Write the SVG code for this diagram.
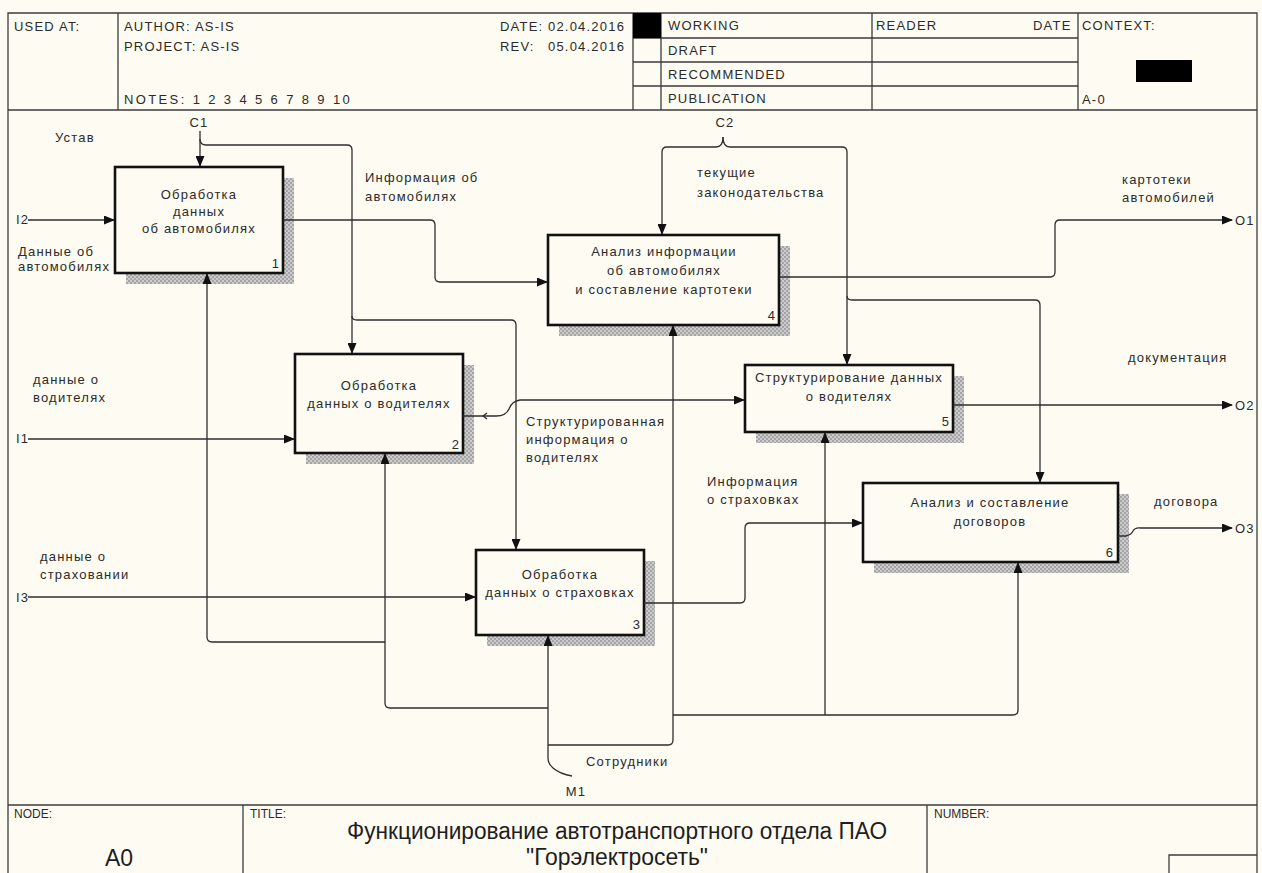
<svg xmlns="http://www.w3.org/2000/svg" width="1262" height="873" viewBox="0 0 1262 873">
  <style>
    .t{font-family:"Liberation Sans",Arial,sans-serif;font-size:13px;fill:#2b2b2b;letter-spacing:1.2px}
    .n{font-family:"Liberation Sans",Arial,sans-serif;font-size:13px;fill:#2b2b2b;text-anchor:end}
    .s{font-family:"Liberation Sans",Arial,sans-serif;font-size:12px;fill:#2b2b2b}
    .big{font-family:"Liberation Sans",Arial,sans-serif;font-size:23px;fill:#1e1e1e;text-anchor:middle}
    .c{text-anchor:middle}
    .fr{fill:none;stroke:#3c3c3c;stroke-width:1.3}
    .box{fill:#fdfbf2;stroke:#111;stroke-width:2.6}
    .sh{fill:url(#dither)}
    .ln{fill:none;stroke:#2e2e2e;stroke-width:1.3}
    .arr{marker-end:url(#ah)}
  </style>
  <defs>
    <pattern id="dither" width="4" height="4" patternUnits="userSpaceOnUse">
      <rect width="4" height="4" fill="#cccccc"/>
      <rect width="2" height="2" fill="#a4a4a4"/>
      <rect x="2" y="2" width="2" height="2" fill="#a4a4a4"/>
    </pattern>
    <marker id="ah" markerUnits="userSpaceOnUse" markerWidth="11" markerHeight="9" refX="10" refY="4.5" orient="auto">
      <path d="M0,0 L11,4.5 L0,9 z" fill="#111"/>
    </marker>
  </defs>

  <rect width="1262" height="873" fill="#fdfbf2"/>

  <!-- drawing frame: header and footer forms -->
  <g id="frame">
    <path class="fr" d="M8,880 V13 H1257 V880"/>
    <path class="fr" d="M8,110 H1257 M118,13 V110 M633,13 V110 M661,13 V110 M872,13 V110 M1078,13 V110"/>
    <path class="fr" d="M633,38 H1078 M633,62 H1078 M633,86 H1078"/>
    <rect x="633" y="13" width="28" height="25" fill="#000"/>
    <rect x="1136" y="60" width="56" height="22" fill="#000"/>
    <text class="t" x="14" y="31">USED AT:</text>
    <text class="t" x="124" y="31">AUTHOR: AS-IS</text>
    <text class="t" x="124" y="51">PROJECT: AS-IS</text>
    <text class="t" x="124" y="104" textLength="227">NOTES: 1 2 3 4 5 6 7 8 9 10</text>
    <text class="t" x="500" y="31">DATE:</text>
    <text class="t" x="548" y="31">02.04.2016</text>
    <text class="t" x="500" y="51">REV:</text>
    <text class="t" x="548" y="51">05.04.2016</text>
    <text class="t" x="668" y="30">WORKING</text>
    <text class="t" x="668" y="55">DRAFT</text>
    <text class="t" x="668" y="79">RECOMMENDED</text>
    <text class="t" x="668" y="103">PUBLICATION</text>
    <text class="t" x="876" y="30">READER</text>
    <text class="t" x="1033" y="30">DATE</text>
    <text class="t" x="1082" y="30">CONTEXT:</text>
    <text class="t" x="1082" y="104">A-0</text>

    <path class="fr" d="M8,805 H1257 M243,805 V880 M927,805 V880 M1169,880 V855 H1257"/>
    <text class="s" x="14" y="818">NODE:</text>
    <text class="s" x="250" y="818">TITLE:</text>
    <text class="s" x="934" y="818">NUMBER:</text>
    <text class="big" x="119" y="866">A0</text>
    <text class="big" x="617" y="839" textLength="540" lengthAdjust="spacingAndGlyphs">Функционирование автотранспортного отдела ПАО</text>
    <text class="big" x="617" y="865" textLength="182" lengthAdjust="spacingAndGlyphs">"Горэлектросеть"</text>
  </g>

  <!-- activity boxes -->
  <g id="node-1">
    <rect class="sh" x="126" y="178" width="168" height="106"/>
    <rect class="box" x="115" y="167" width="168" height="106"/>
    <text class="t c" x="199" y="199">Обработка</text>
    <text class="t c" x="199" y="216">данных</text>
    <text class="t c" x="199" y="233">об автомобилях</text>
    <text class="n" x="279" y="268">1</text>
  </g>
  <g id="node-2">
    <rect class="sh" x="306" y="365" width="168" height="99"/>
    <rect class="box" x="295" y="354" width="168" height="99"/>
    <text class="t c" x="379" y="390">Обработка</text>
    <text class="t c" x="379" y="408">данных о водителях</text>
    <text class="n" x="459" y="449">2</text>
  </g>
  <g id="node-3">
    <rect class="sh" x="487" y="561" width="168" height="85"/>
    <rect class="box" x="476" y="550" width="168" height="85"/>
    <text class="t c" x="560" y="579">Обработка</text>
    <text class="t c" x="560" y="597">данных о страховках</text>
    <text class="n" x="640" y="629">3</text>
  </g>
  <g id="node-4">
    <rect class="sh" x="559" y="246" width="231" height="90"/>
    <rect class="box" x="548" y="235" width="231" height="90"/>
    <text class="t c" x="664" y="256">Анализ информации</text>
    <text class="t c" x="664" y="275">об автомобилях</text>
    <text class="t c" x="664" y="294">и составление картотеки</text>
    <text class="n" x="775" y="320">4</text>
  </g>
  <g id="node-5">
    <rect class="sh" x="756" y="376" width="208" height="67"/>
    <rect class="box" x="745" y="365" width="208" height="67"/>
    <text class="t c" x="849" y="382">Структурирование данных</text>
    <text class="t c" x="849" y="401">о водителях</text>
    <text class="n" x="949" y="426">5</text>
  </g>
  <g id="node-6">
    <rect class="sh" x="874" y="494" width="255" height="79"/>
    <rect class="box" x="863" y="483" width="255" height="79"/>
    <text class="t c" x="990" y="507">Анализ и составление</text>
    <text class="t c" x="990" y="526">договоров</text>
    <text class="n" x="1113" y="557">6</text>
  </g>

  <!-- arrows -->
  <g id="connectors">
    <!-- inputs -->
    <path class="ln arr" d="M28,220 L114,220"/>
    <path class="ln arr" d="M28,439 L294,439"/>
    <path class="ln arr" d="M28,597 L475,597"/>
    <!-- C1 control -->
    <path class="ln arr" d="M200,131 L200,166"/>
    <path class="ln arr" d="M200,139 Q200,145 206,145 L347,145 Q352,145 352,150 L352,353"/>
    <path class="ln arr" d="M352,316 Q352,320 357,320 L511,320 Q516,320 516,325 L516,549"/>
    <!-- box 1 to box 4 -->
    <path class="ln arr" d="M283,220 L430,220 Q435,220 435,225 L435,277 Q435,282 440,282 L547,282"/>
    <!-- C2 control -->
    <path class="ln arr" d="M723,137 Q723,147 716,147 L667,147 Q662,147 662,152 L662,234"/>
    <path class="ln arr" d="M723,137 Q723,147 730,147 L842,147 Q847,147 847,152 L847,364"/>
    <path class="ln arr" d="M847,296 Q847,300 852,300 L1035,300 Q1040,300 1040,305 L1040,482"/>
    <!-- box 4 output -->
    <path class="ln arr" d="M779,277 L1050,277 Q1055,277 1055,272 L1055,225 Q1055,220 1060,220 L1232,220"/>
    <!-- box 2 to box 5 -->
    <path class="ln arr" d="M463,416 L496,416 Q506,416 509,409 Q512,401 520,400 L744,400"/>
    <path class="ln" d="M487,413 L483,416 L487,419"/>
    <!-- box 5 output -->
    <path class="ln arr" d="M953,405 L1232,405"/>
    <!-- box 3 to box 6 -->
    <path class="ln arr" d="M644,603 L740,603 Q745,603 745,598 L745,528 Q745,523 750,523 L862,523"/>
    <!-- box 6 output -->
    <path class="ln arr" d="M1118,536 L1126,536 Q1131,535 1133,531 Q1135,527 1141,528 L1232,528"/>
    <!-- M1 mechanism -->
    <path class="ln arr" d="M572,776 Q560,774 553,768 Q548,764 548,758 L548,636"/>
    <path class="ln arr" d="M548,708 L390,708 Q385,708 385,703 L385,454"/>
    <path class="ln arr" d="M385,642 L212,642 Q207,642 207,637 L207,274"/>
    <path class="ln arr" d="M548,745 L668,745 Q673,745 673,740 L673,326"/>
    <path class="ln arr" d="M673,715 L1013,715 Q1018,715 1018,710 L1018,563"/>
    <path class="ln arr" d="M825,715 L825,433"/>
  </g>

  <!-- arrow labels -->
  <g id="labels">
    <text class="t c" x="199" y="127">C1</text>
    <text class="t c" x="725" y="127">C2</text>
    <text class="t" x="55" y="142">Устав</text>
    <text class="t" x="16" y="224">I2</text>
    <text class="t" x="18" y="256">Данные об</text>
    <text class="t" x="18" y="271">автомобилях</text>
    <text class="t" x="365" y="182">Информация об</text>
    <text class="t" x="365" y="201">автомобилях</text>
    <text class="t" x="697" y="177">текущие</text>
    <text class="t" x="697" y="197">законодательства</text>
    <text class="t" x="1122" y="184">картотеки</text>
    <text class="t" x="1122" y="202">автомобилей</text>
    <text class="t" x="1235" y="225">O1</text>
    <text class="t" x="33" y="384">данные о</text>
    <text class="t" x="33" y="402">водителях</text>
    <text class="t" x="16" y="443">I1</text>
    <text class="t" x="1128" y="362">документация</text>
    <text class="t" x="1235" y="410">O2</text>
    <text class="t" x="526" y="426">Структурированная</text>
    <text class="t" x="526" y="444">информация о</text>
    <text class="t" x="526" y="462">водителях</text>
    <text class="t" x="707" y="486">Информация</text>
    <text class="t" x="707" y="504">о страховках</text>
    <text class="t" x="1154" y="506">договора</text>
    <text class="t" x="1235" y="533">O3</text>
    <text class="t" x="40" y="561">данные о</text>
    <text class="t" x="40" y="579">страховании</text>
    <text class="t" x="16" y="602">I3</text>
    <text class="t" x="586" y="766">Сотрудники</text>
    <text class="t c" x="576" y="796">M1</text>
  </g>
</svg>
